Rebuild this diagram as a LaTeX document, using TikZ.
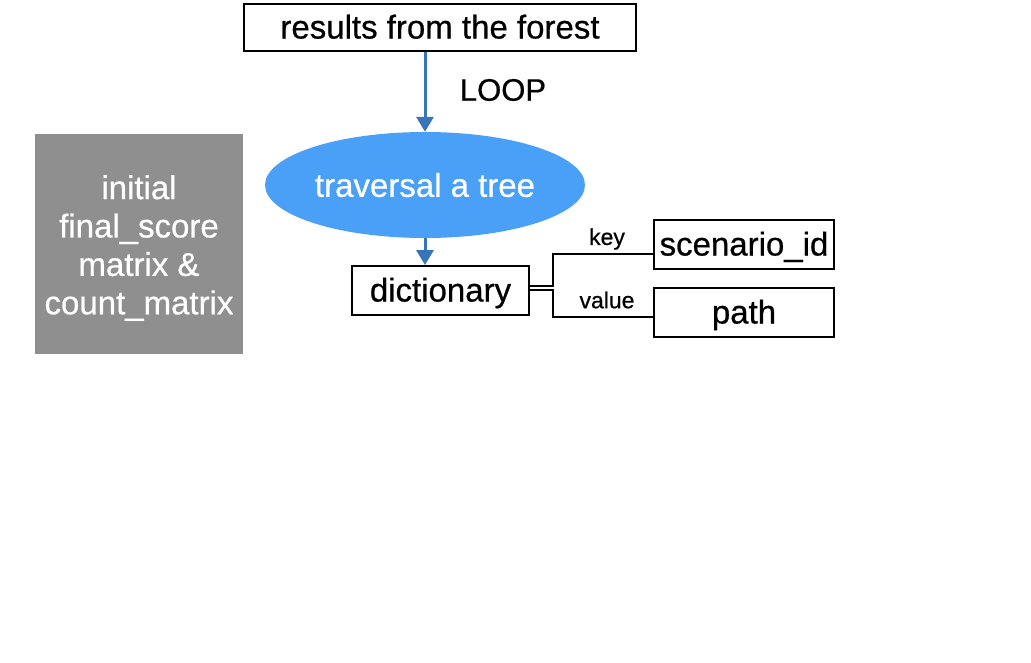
\documentclass[tikz,border=0pt]{standalone}
\usepackage{fontspec}
\setmainfont{Liberation Sans}[RawFeature={embolden=0.6}]
\usetikzlibrary{arrows.meta,shapes.geometric}
\definecolor{arrowblue}{HTML}{3675BA}
\definecolor{ellblue}{HTML}{49A0F6}
\definecolor{boxgray}{HTML}{8F8F8F}
\tikzset{
  big/.style={font=\fontsize{33}{38.5}\selectfont},
  wbox/.style={draw=black, line width=1.8pt, fill=white, inner sep=0pt, big, text height=29pt, text depth=7pt},
  flow/.style={draw=arrowblue, line width=3pt, -{Triangle[length=15pt,width=17pt]}},
  conn/.style={draw=black, line width=1.6pt},
  small/.style={font=\fontsize{23}{26}\selectfont, inner sep=0pt},
}
\begin{document}
\begin{tikzpicture}[x=1pt,y=-1pt]
\useasboundingbox (0,0) rectangle (1031,662);
\node[wbox, minimum width=392pt, minimum height=47pt] (forest) at (440,27.5) {results from the forest};
\node[ellipse, fill=ellblue, minimum width=320pt, minimum height=106pt, inner sep=0pt, text=white, big] (tree) at (425,185) {traversal a tree};
\node[wbox, minimum width=177pt, minimum height=49pt] (dict) at (440.5,290.5) {dictionary};
\node[wbox, minimum width=180pt, minimum height=49pt] (scen) at (744,244.5) {scenario\_id};
\node[wbox, minimum width=180pt, minimum height=49pt] (path) at (744,312.5) {path};
\node[fill=boxgray, minimum width=208pt, minimum height=220pt, inner sep=0pt] (init) at (139,244) {};
\node[text=white, align=center, font=\fontsize{33}{38.4}\selectfont, inner sep=0pt] (inittext) at (139,248) {initial\\final\_score\\matrix \&\\count\_matrix};
\node[inner sep=0pt, font=\fontsize{31}{36}\selectfont] (loop) at (503,90) {LOOP};
\draw[flow] (forest.south -| 425,0) -- (tree.north);
\draw[flow] (tree.south) -- (dict.north -| 425,0);
\coordinate (k0) at (553,286);
\coordinate (k1) at (553,254);
\coordinate (v0) at (553,290);
\coordinate (v1) at (553,317);
\draw[conn] (dict.east |- k0) -- (k0) -- (k1) -- (scen.west |- k1);
\draw[conn] (dict.east |- v0) -- (v0) -- (v1) -- (path.west |- v1);
\node[small] (keylbl) at (607,239) {key};
\node[small] (vallbl) at (607,300) {value};
\end{tikzpicture}
\end{document}
